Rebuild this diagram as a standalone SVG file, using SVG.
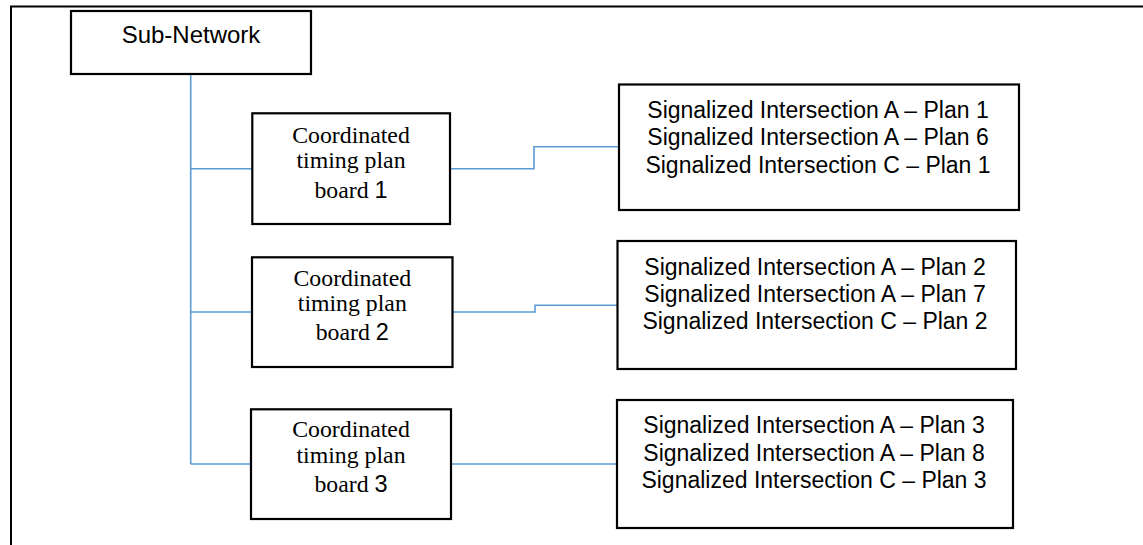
<svg xmlns="http://www.w3.org/2000/svg" width="1143" height="545" viewBox="0 0 1143 545">
<style>
.box{fill:#fff;stroke:#000;stroke-width:2.2}
.frame{fill:none;stroke:#000;stroke-width:2}
.conn{fill:none;stroke:#5B9BD5;stroke-width:1.6}
.sans{font-family:"Liberation Sans",Arial,sans-serif;font-size:23px;fill:#000;text-anchor:middle}
.title{font-size:24px}
.serif{font-family:"Liberation Serif","Times New Roman",serif;font-size:23.8px;fill:#000;text-anchor:middle}
.num{font-family:"Liberation Sans",Arial,sans-serif;font-size:23.5px}
</style>
<rect width="1143" height="545" fill="#fff"/>
<path class="frame" d="M11,545 V6.5 H1143"/>
<g id="connectors">
<path class="conn" d="M190.7,74 V464"/>
<path class="conn" d="M190.7,168.7 H252"/>
<path class="conn" d="M190.7,312 H252"/>
<path class="conn" d="M190.7,464 H251"/>
<path class="conn" d="M450,168.7 H534 V146.7 H619"/>
<path class="conn" d="M452.5,312 H535 V305.3 H618"/>
<path class="conn" d="M451,464 H617"/>
</g>
<g id="sub-network">
<rect class="box" x="71" y="11" width="240" height="63"/>
<text class="sans title" x="191" y="43">Sub-Network</text>
</g>
<g id="board1">
<rect class="box" x="252.3" y="113.3" width="197.7" height="110.7"/>
<text class="serif" x="351" y="143.3">Coordinated</text>
<text class="serif" x="351" y="168.3">timing plan</text>
<text class="serif" x="351" y="197.7">board <tspan class="num">1</tspan></text>
</g>
<g id="board2">
<rect class="box" x="252" y="257.3" width="200.5" height="109.7"/>
<text class="serif" x="352.3" y="285.7">Coordinated</text>
<text class="serif" x="352.3" y="310.7">timing plan</text>
<text class="serif" x="352.3" y="340">board <tspan class="num">2</tspan></text>
</g>
<g id="board3">
<rect class="box" x="251" y="409.3" width="200" height="109.7"/>
<text class="serif" x="351" y="437.3">Coordinated</text>
<text class="serif" x="351" y="462.7">timing plan</text>
<text class="serif" x="351" y="492.3">board <tspan class="num">3</tspan></text>
</g>
<g id="plans1">
<rect class="box" x="619" y="84.5" width="400" height="125.5"/>
<text class="sans" x="818" y="118.3">Signalized Intersection A – Plan 1</text>
<text class="sans" x="818" y="145">Signalized Intersection A – Plan 6</text>
<text class="sans" x="818" y="172.7">Signalized Intersection C – Plan 1</text>
</g>
<g id="plans2">
<rect class="box" x="617.5" y="241" width="398.5" height="128"/>
<text class="sans" x="815" y="275">Signalized Intersection A – Plan 2</text>
<text class="sans" x="815" y="302">Signalized Intersection A – Plan 7</text>
<text class="sans" x="815" y="329">Signalized Intersection C – Plan 2</text>
</g>
<g id="plans3">
<rect class="box" x="617" y="400" width="396" height="128"/>
<text class="sans" x="814" y="433">Signalized Intersection A – Plan 3</text>
<text class="sans" x="814" y="461">Signalized Intersection A – Plan 8</text>
<text class="sans" x="814" y="488">Signalized Intersection C – Plan 3</text>
</g>
</svg>
